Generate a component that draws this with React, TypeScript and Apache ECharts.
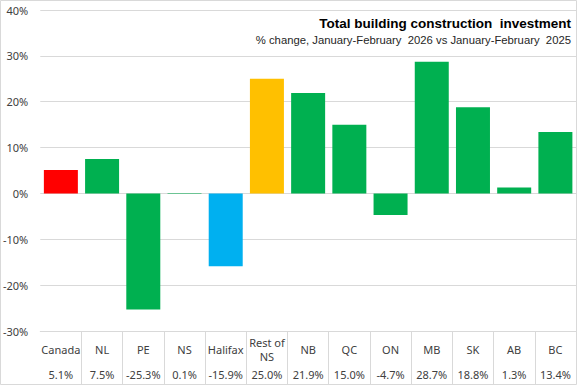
import React, { useEffect, useRef } from "react";
import * as echarts from "echarts";

const categories = ["Canada", "NL", "PE", "NS", "Halifax", "Rest of\nNS", "NB", "QC", "ON", "MB", "SK", "AB", "BC"];
const values = [5.1, 7.5, -25.3, 0.1, -15.9, 25.0, 21.9, 15.0, -4.7, 28.7, 18.8, 1.3, 13.4];
const barColors = ["#FF0000", "#00B050", "#00B050", "#00B050", "#00B0F0", "#FFC000", "#00B050", "#00B050", "#00B050", "#00B050", "#00B050", "#00B050", "#00B050"];
const titleText = "Total building construction  investment";
const subtitleText = "% change, January-February  2026 vs January-February  2025";

export default function App() {
  const ref = useRef<HTMLDivElement>(null);
  useEffect(() => {
    if (!ref.current) return;
    const chart = echarts.init(ref.current, undefined, { renderer: "svg" });
    const labelFont = "'Noto Sans', sans-serif";
    chart.setOption({
      animation: false,
      backgroundColor: "#ffffff",
      textStyle: { fontFamily: labelFont },
      title: [
        {
          text: titleText,
          right: 1,
          top: 11,
          textStyle: { fontSize: 13.5, fontWeight: "bold", color: "#000000", fontFamily: "'Liberation Sans', Arial, sans-serif" },
        },
        {
          text: subtitleText,
          right: 1,
          top: 29,
          textStyle: { fontSize: 11.3, fontWeight: "normal", color: "#262626", fontFamily: "'Liberation Sans', Arial, sans-serif" },
        },
      ],
      grid: { left: 40, right: 1, top: 10, bottom: 54, containLabel: false },
      xAxis: [
        {
          type: "category",
          data: categories,
          position: "bottom",
          axisLine: { onZero: false, lineStyle: { color: "#d9d9d9" } },
          axisTick: {
            show: true,
            length: 53,
            alignWithLabel: false,
            interval: (i: number) => i !== 0,
            lineStyle: { color: "#d9d9d9" },
          },
          axisLabel: {
            interval: 0,
            margin: 18,
            verticalAlign: "middle",
            fontSize: 11,
            lineHeight: 14,
            color: "#404040",
            fontFamily: labelFont,
          },
        },
        {
          type: "category",
          data: categories,
          position: "bottom",
          offset: 0,
          axisLine: { show: false },
          axisTick: { show: false },
          axisLabel: {
            interval: 0,
            margin: 43,
            verticalAlign: "middle",
            fontSize: 11,
            color: "#404040",
            fontFamily: labelFont,
            formatter: (_: string, i: number) => values[i].toFixed(1) + "%",
          },
        },
      ],
      yAxis: {
        type: "value",
        min: -30,
        max: 40,
        interval: 10,
        axisLine: { show: false },
        axisTick: { show: false },
        splitLine: { lineStyle: { color: "#d9d9d9" } },
        axisLabel: {
          margin: 12,
          fontSize: 11,
          color: "#404040",
          fontFamily: labelFont,
          formatter: (v: number) => v + "%",
        },
      },
      series: [
        {
          type: "bar",
          xAxisIndex: 0,
          data: values.map((v, i) => ({ value: v, itemStyle: { color: barColors[i] } })),
          barCategoryGap: "17.5%",
        },
      ],
      graphic: [
        {
          type: "rect",
          shape: { x: 0.5, y: 0.5, width: 576, height: 384 },
          style: { fill: "none", stroke: "#d9d9d9", lineWidth: 1 },
          silent: true,
        },
      ],
    });
    return () => chart.dispose();
  }, []);
  return <div ref={ref} style={{ width: 577, height: 385, position: "absolute", left: 0, top: 0 }} />;
}
